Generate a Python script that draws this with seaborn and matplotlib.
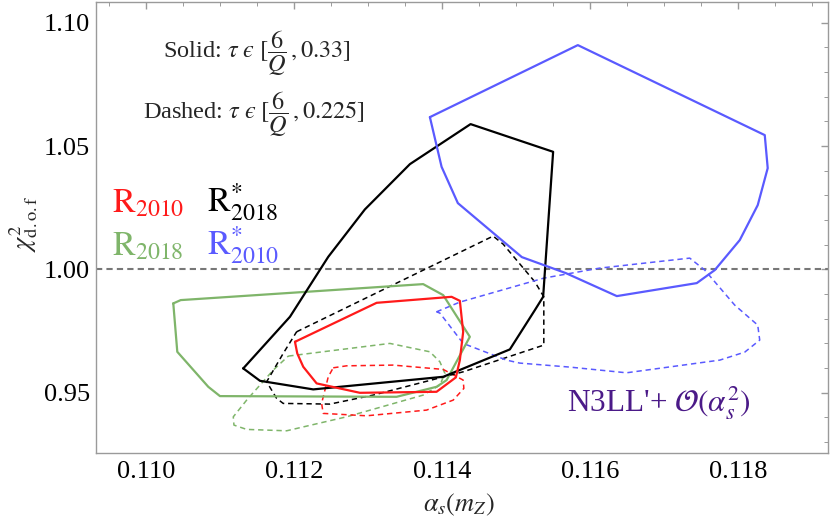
import numpy as np
import pandas as pd
import matplotlib
matplotlib.use("Agg")
import matplotlib.pyplot as plt
import seaborn as sns

# ---------------- data ----------------
green_solid_x = [0.110369, 0.110469, 0.113747, 0.114018, 0.114378, 0.114064, 0.113928, 0.113388, 0.111000, 0.110842, 0.110423]
green_solid_y = [0.98622, 0.98756, 0.99404, 0.98958, 0.97268, 0.95513, 0.95241, 0.94836, 0.94864, 0.95241, 0.96660]

red_solid_x = [0.112014, 0.113118, 0.114131, 0.114243, 0.114288, 0.114243, 0.114189, 0.113928, 0.112892, 0.112307, 0.112126, 0.112045]
red_solid_y = [0.97065, 0.98646, 0.98889, 0.98727, 0.97471, 0.96323, 0.95622, 0.95039, 0.94998, 0.95379, 0.96052, 0.96595]

black_solid_x = [0.111315, 0.111541, 0.112261, 0.114018, 0.114919, 0.115257, 0.115369, 0.115504, 0.114388, 0.113568, 0.112959, 0.112464, 0.111946]
black_solid_y = [0.95987, 0.95484, 0.95136, 0.95647, 0.96757, 0.98350, 0.98889, 1.04767, 1.05890, 1.04268, 1.02432, 1.00511, 0.98079]

blue_solid_x = [0.113838, 0.115838, 0.118365, 0.118405, 0.118270, 0.118027, 0.117689, 0.117446, 0.116365, 0.115676, 0.115081, 0.114216, 0.113996]
blue_solid_y = [1.06173, 1.09092, 1.05444, 1.04106, 1.02606, 1.01188, 0.99972, 0.99445, 0.98918, 0.99850, 1.00499, 1.02687, 1.04159]

black_dash_x = [0.112036, 0.114693, 0.114828, 0.115257, 0.115378, 0.115378, 0.114288, 0.113072, 0.112486, 0.111855, 0.111766, 0.111631, 0.111855]
black_dash_y = [0.97471, 1.01350, 1.01026, 0.99497, 0.98889, 0.96932, 0.95849, 0.94905, 0.94540, 0.94568, 0.94771, 0.95444, 0.96595]

green_dash_x = [0.111923, 0.113297, 0.113838, 0.113973, 0.114041, 0.113973, 0.113747, 0.112712, 0.111901, 0.111361, 0.111189, 0.111180, 0.111361, 0.111720]
green_dash_y = [0.96486, 0.97000, 0.96660, 0.96255, 0.95784, 0.95310, 0.94905, 0.94025, 0.93458, 0.93514, 0.93689, 0.94025, 0.94702, 0.95918]

red_dash_x = [0.112531, 0.112712, 0.113342, 0.114018, 0.114288, 0.114297, 0.114153, 0.113793, 0.112982, 0.112396, 0.112374, 0.112464]
red_dash_y = [0.96011, 0.96092, 0.96121, 0.95946, 0.95513, 0.95176, 0.94702, 0.94297, 0.94066, 0.94163, 0.94568, 0.95647]

blue_dash_x = [0.113928, 0.114243, 0.115378, 0.116135, 0.117351, 0.117554, 0.117959, 0.118270, 0.118297, 0.118095, 0.117757, 0.116496, 0.115730, 0.115054, 0.114874, 0.114288, 0.113973]
blue_dash_y = [0.98281, 0.98675, 0.99647, 1.00053, 1.00458, 0.99972, 0.98553, 0.97742, 0.97134, 0.96648, 0.96323, 0.95809, 0.96040, 0.96202, 0.96323, 0.97000, 0.98229]

x_ticks = [0.110, 0.112, 0.114, 0.116, 0.118]
x_tick_labels = ["0.110", "0.112", "0.114", "0.116", "0.118"]
y_ticks = [0.95, 1.00, 1.05, 1.10]
y_tick_labels = ["0.95", "1.00", "1.05", "1.10"]
reference_chi2 = 1.0

# ---------------- styling ----------------
sns.set_theme(style="white")
plt.rcParams['font.family'] = ['Liberation Serif', 'DejaVu Serif']
plt.rcParams['mathtext.fontset'] = 'stix'

RED = '#ff1a1a'
GREEN = '#7fb56a'
BLUE = '#5a5aff'
BLACK = '#000000'
PURPLE = '#4b1a88'
FRAME = '#9a9a9a'

fig = plt.figure(figsize=(8.3, 5.21), dpi=100)
W, H = 830, 521
left, right, bottom, top = 95.7, 828, 452.7, 2
ax = fig.add_axes([left / W, (H - bottom) / H, (right - left) / W, (bottom - top) / H])

def closed(xs, ys):
    return list(xs) + [xs[0]], list(ys) + [ys[0]]

contours = [
    (green_dash_x, green_dash_y, GREEN, 'dash'),
    (red_dash_x, red_dash_y, RED, 'dash'),
    (black_dash_x, black_dash_y, BLACK, 'dash'),
    (blue_dash_x, blue_dash_y, BLUE, 'dash'),
    (green_solid_x, green_solid_y, GREEN, 'solid'),
    (black_solid_x, black_solid_y, BLACK, 'solid'),
    (red_solid_x, red_solid_y, RED, 'solid'),
    (blue_solid_x, blue_solid_y, BLUE, 'solid'),
]

for xs, ys, col, kind in contours:
    cx, cy = closed(xs, ys)
    df = pd.DataFrame({'x': cx, 'y': cy})
    if kind == 'solid':
        sns.lineplot(data=df, x='x', y='y', sort=False, estimator=None, color=col,
                     linewidth=1.6, ax=ax)
    else:
        sns.lineplot(data=df, x='x', y='y', sort=False, estimator=None, color=col,
                     linewidth=1.1, linestyle=(0, (3.5, 2.5)), ax=ax)

ax.axhline(reference_chi2, color='#777777', linewidth=1.5, linestyle=(0, (3, 2)), zorder=1)

ax.set_xlim(0.10932, 0.11922)
ax.set_ylim(0.9257, 1.1084)

ax.set_xticks(x_ticks)
ax.set_xticklabels(x_tick_labels)
ax.set_yticks(y_ticks)
ax.set_yticklabels(y_tick_labels)
ax.set_xticks(np.arange(0.1095, 0.1192, 0.0005), minor=True)
ax.set_yticks(np.arange(0.93, 1.105, 0.01), minor=True)
ax.tick_params(which='both', direction='in', top=True, right=True, color=FRAME,
               labelsize=19, labelcolor='black')
ax.tick_params(which='major', length=5, width=1.0, pad=4)
ax.tick_params(which='minor', length=3, width=0.7)
ax.tick_params(axis='x', which='major', pad=6)
for s in ax.spines.values():
    s.set_color(FRAME)
    s.set_linewidth(1.0)
ax.set_xlabel('')
ax.set_ylabel('')
ax.grid(False)

# axis labels
fig.text(459 / W, 1 - 505 / H, r'$\alpha_s(m_Z)$', ha='center', va='center', fontsize=19)
fig.text(24 / W, 1 - 224 / H, r'$\chi^2_{\mathrm{d.o.f}}$', ha='center', va='center',
         fontsize=19, rotation=90)

# annotations
ax.text(0.110230, 1.08565, 'Solid: $\\tau\\ \u03f5\\ [\\dfrac{6}{Q}\\,, 0.33]$',
        ha='left', va='baseline', fontsize=17.5)
ax.text(0.109959, 1.06093, 'Dashed: $\\tau\\ \u03f5\\ [\\dfrac{6}{Q}\\,, 0.225]$',
        ha='left', va='baseline', fontsize=17.5)

ax.text(0.109541, 1.02323, r'$\mathrm{R}_{2010}$', color=RED, ha='left', va='baseline', fontsize=24.5)
ax.text(0.110824, 1.02323, r'$\mathrm{R}^{*}_{2018}$', color=BLACK, ha='left', va='baseline', fontsize=24.5)
ax.text(0.109541, 1.00580, r'$\mathrm{R}_{2018}$', color=GREEN, ha='left', va='baseline', fontsize=24.5)
ax.text(0.110824, 1.00580, r'$\mathrm{R}^{*}_{2010}$', color=BLUE, ha='left', va='baseline', fontsize=24.5)

ax.text(0.115689, 0.94216, r"N3LL'+ $\mathcal{O}(\alpha_s^2)$", color=PURPLE,
        ha='left', va='baseline', fontsize=22.5)

fig.savefig('out.png', dpi=100)
